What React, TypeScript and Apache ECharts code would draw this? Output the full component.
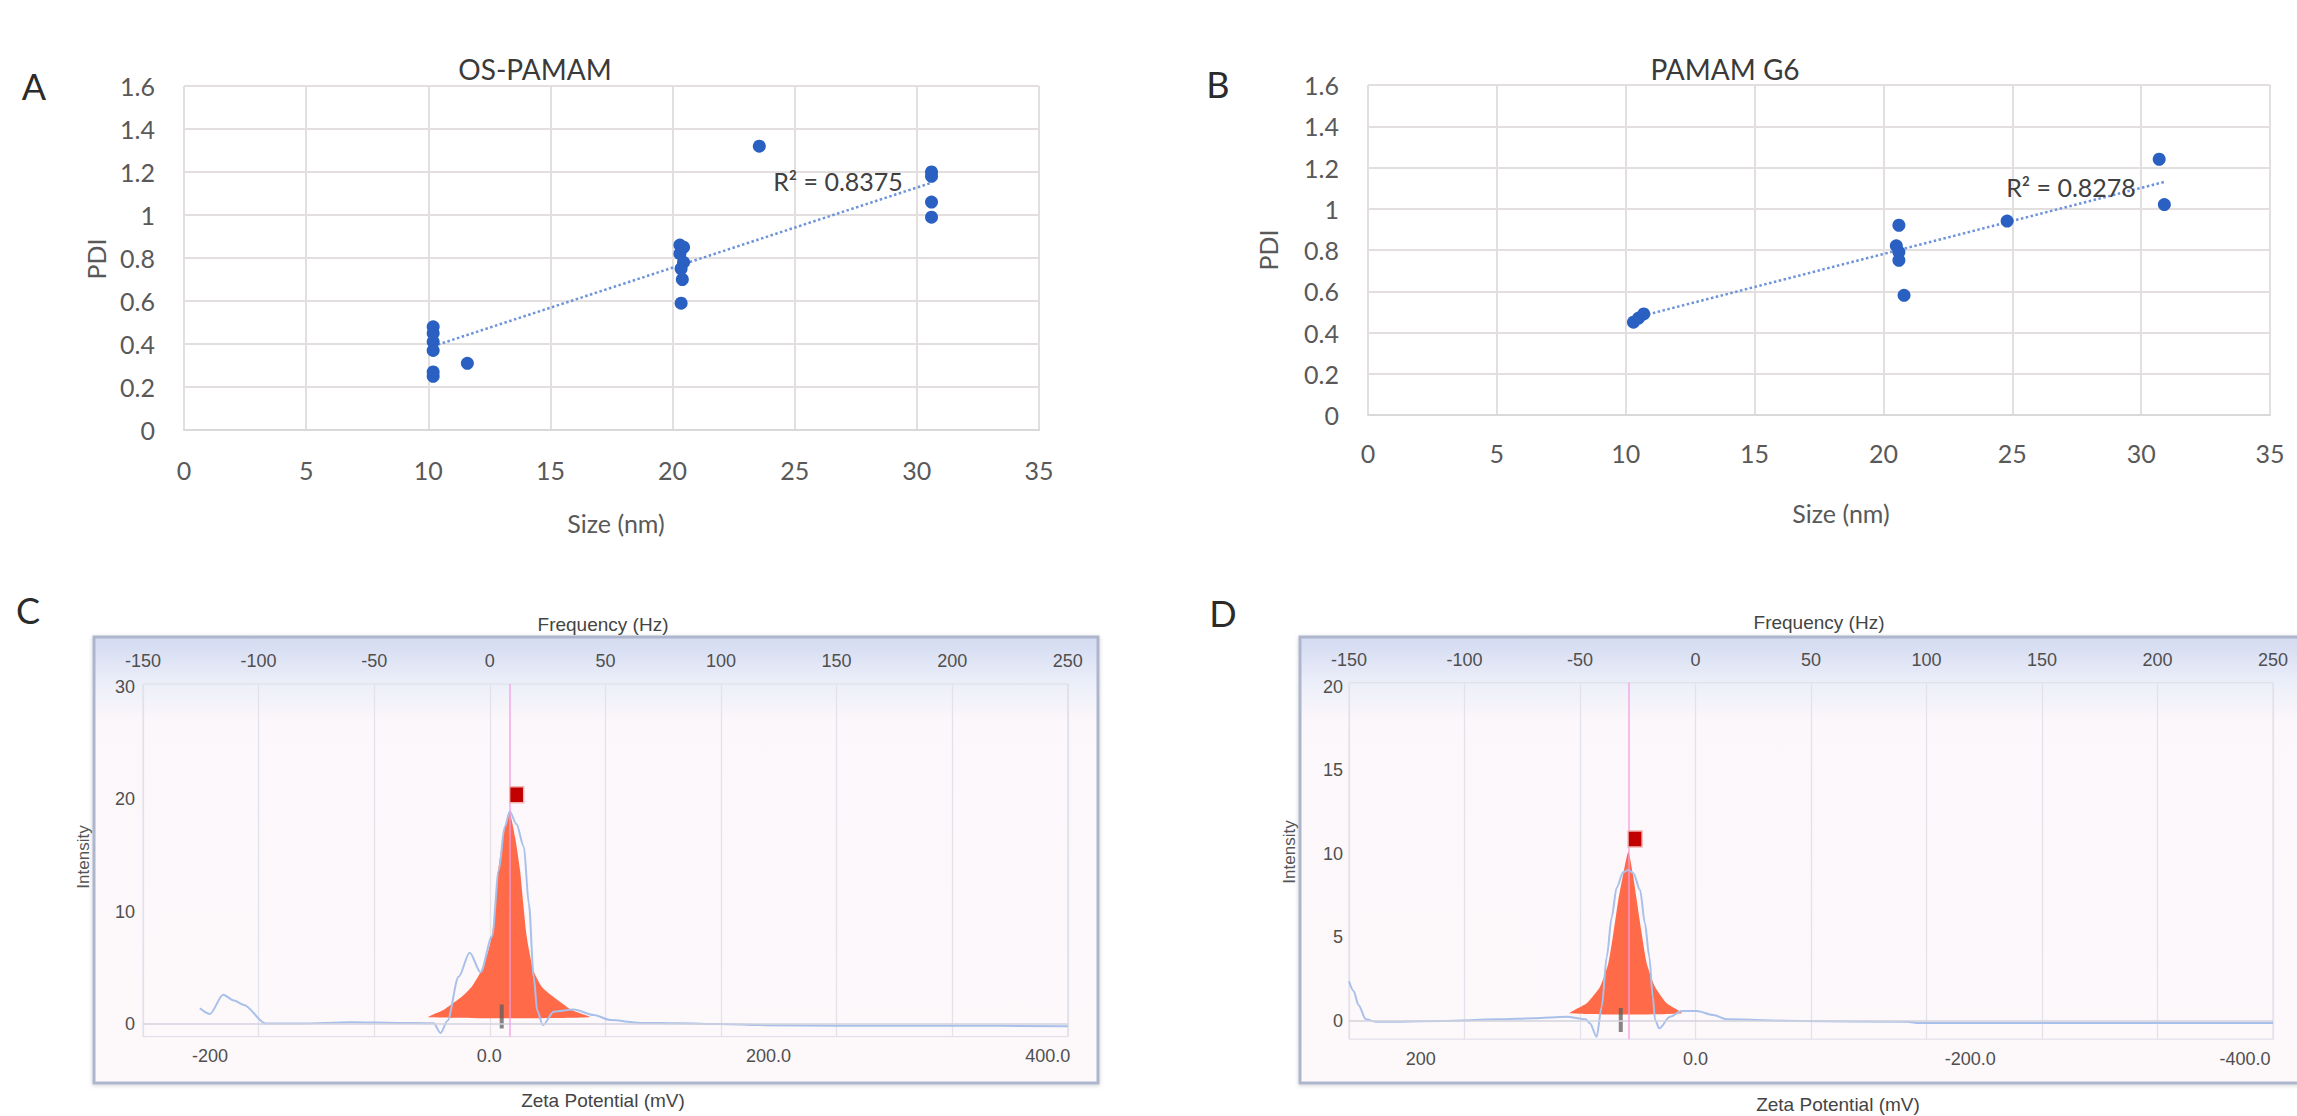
import { useEffect, useRef } from 'react';
import * as echarts from 'echarts';

const W = 2297;
const H = 1116;

const FONT_XL = 'Lato, "Open Sans", sans-serif';
const FONT_ZS = '"Liberation Sans", Arial, sans-serif';

// ---------- A: OS-PAMAM, size vs PDI ----------
const sizeA = [10.2, 10.2, 10.2, 10.2, 10.2, 10.2, 11.6, 20.3, 20.45, 20.3, 20.45, 20.35, 20.4, 20.35, 23.55, 30.6, 30.6, 30.6, 30.6];
const pdiA = [0.48, 0.45, 0.41, 0.37, 0.27, 0.25, 0.31, 0.86, 0.85, 0.82, 0.78, 0.75, 0.7, 0.59, 1.32, 1.2, 1.18, 1.06, 0.99];
const trendA = [[10.2, 0.39], [30.6, 1.15]];
const r2A = 'R\u00b2 = 0.8375';

// ---------- B: PAMAM G6, size vs PDI ----------
const sizeB = [10.3, 10.5, 10.7, 20.6, 20.5, 20.6, 20.6, 20.8, 24.8, 30.7, 30.9];
const pdiB = [0.45, 0.47, 0.49, 0.92, 0.82, 0.79, 0.75, 0.58, 0.94, 1.24, 1.02];
const trendB = [[10.3, 0.47], [30.9, 1.13]];
const r2B = 'R\u00b2 = 0.8278';

// ---------- C: OS-PAMAM zeta potential ----------
const freqTicks = [-150, -100, -50, 0, 50, 100, 150, 200, 250];
const zetaTicksC = [-200, 0, 200, 400];
const zetaLabelsC = ['-200', '0.0', '200.0', '400.0'];
const intensityTicksC = [0, 10, 20, 30];
// phase spectrum, [frequency (Hz), intensity]
const spectrumC = [
  [-125.4, 1.4], [-121.1, 0.9], [-115.3, 2.6], [-110.7, 2.1], [-106.4, 1.7], [-97, 0.05],
  [-82, 0.05], [-60, 0.15], [-40, 0.1], [-24.3, 0.06], [-21.3, -0.8], [-18.3, 0.3],
  [-13.5, 4.2], [-8.7, 6.35], [-4.0, 4.6], [1.0, 7.8], [3.9, 13.7], [6.4, 17.5], [8.65, 18.9],
  [11.5, 17.8], [14.7, 15.8], [16.9, 10.7], [19.0, 4.2], [20.5, 1.2], [22.9, -0.1],
  [27.7, 1.1], [36.3, 1.3], [45.0, 0.8], [52.2, 0.35], [65, 0.1], [82, 0.06], [100, 0.0],
  [117, -0.1], [150, -0.15], [200, -0.15], [250, -0.2],
];
// zeta distribution, [zeta (mV), intensity]
const peakC = [
  [-43.7, 0.6], [-32.9, 1.25], [-19.8, 2.43], [-12.6, 3.32], [-6.7, 4.51], [-1.9, 6.0],
  [1.7, 7.77], [4.1, 10.14], [6.4, 13.7], [10.0, 16.66], [14.3, 18.9], [18.4, 16.66],
  [22.0, 13.7], [24.3, 10.74], [26.8, 7.77], [31.5, 4.8], [37.5, 3.32], [45.8, 2.43],
  [59.0, 1.25], [72.1, 0.6],
];
const peakMarkC = [19.6, 20.4];
const peakLineC = 14.3;
const tickC = [8.9, 0.67];

// ---------- D: PAMAM G6 zeta potential ----------
const zetaTicksD = [200, 0, -200, -400];
const zetaLabelsD = ['200', '0.0', '-200.0', '-400.0'];
const intensityTicksD = [0, 5, 10, 15, 20];
const spectrumD = [
  [-150, 2.37], [-148, 1.8], [-145.9, 0.96], [-142.7, 0.1], [-138, -0.05], [-110, 0.0],
  [-85, 0.1], [-70, 0.16], [-55.8, 0.25], [-47.5, 0.1], [-45.7, -0.14], [-42.8, -0.94],
  [-40.6, 0.86], [-38.4, 3.85], [-36.3, 6.2], [-34.1, 8.0], [-31.3, 8.9], [-29.1, 9.04],
  [-26.9, 8.85], [-24.0, 7.84], [-21.9, 5.85], [-20.0, 3.85], [-18.5, 1.46], [-17.5, 0.06],
  [-15.7, -0.44], [-11, 0.26], [-6, 0.6], [0.5, 0.6], [7.7, 0.36], [13.5, 0.1], [45, 0.0],
  [91.6, -0.05], [97, -0.12], [250, -0.12],
];
const peakD = [
  [91.3, 0.46], [79.2, 1.06], [69.5, 2.05], [63.5, 3.45], [59.8, 5.25], [56.2, 7.25],
  [52.5, 8.84], [48.9, 10.14], [45.7, 8.84], [42.8, 7.25], [39.2, 5.25], [35.5, 3.45],
  [29.5, 2.05], [21.0, 1.06], [10.0, 0.46],
];
const peakMarkD = [44.0, 10.9];
const peakLineD = 48.9;
const tickD = [54.4, 0.06];

// ---------- styling helpers ----------
const xlGrid = { color: '#e4dfdf', width: 2 };
const xlLabel = { color: '#595959', fontSize: 25, fontFamily: FONT_XL };
const zsLabel = { color: '#4f4f4f', fontSize: 18, fontFamily: FONT_ZS };

function text(t: string, x: number, y: number, size: number, family: string, color: string, rotation = 0) {
  return {
    type: 'text',
    x,
    y,
    rotation,
    z: 50,
    silent: true,
    style: {
      text: t,
      fill: color,
      fontSize: size,
      fontFamily: family,
      align: 'center',
      verticalAlign: 'middle',
      textAlign: 'center',
      textVerticalAlign: 'middle',
    },
  };
}

function frame(x: number, y: number, w: number, h: number) {
  return {
    type: 'rect',
    z: -10,
    silent: true,
    shape: { x, y, width: w, height: h },
    style: {
      fill: {
        type: 'linear', x: 0, y: 0, x2: 0, y2: 1,
        colorStops: [
          { offset: 0, color: '#d3daf1' },
          { offset: 0.105, color: '#eceff9' },
          { offset: 0.19, color: '#fcf7fa' },
          { offset: 1, color: '#fdf8fa' },
        ],
      },
      stroke: '#aeb6ce',
      lineWidth: 3,
      shadowBlur: 4,
      shadowColor: 'rgba(0,0,0,0.18)',
      shadowOffsetY: 1,
    },
  };
}

function peakPolygon(points: number[][], color: string) {
  return (params: any, api: any) => {
    if (params.dataIndex !== 0) return null;
    const pts = points.map((p) => api.coord(p));
    return {
      type: 'polygon',
      shape: { points: pts, smooth: 0.2 },
      style: { fill: color },
    };
  };
}

function scatterXL(xs: number[], ys: number[], xi: number, yi: number) {
  return {
    type: 'scatter',
    xAxisIndex: xi,
    yAxisIndex: yi,
    data: xs.map((x, i) => [x, ys[i]]),
    symbolSize: 13,
    itemStyle: { color: '#2a60c2', opacity: 1 },
    z: 4,
  };
}

function trendXL(data: number[][], xi: number, yi: number) {
  return {
    type: 'line',
    xAxisIndex: xi,
    yAxisIndex: yi,
    data,
    symbol: 'none',
    lineStyle: { type: 'dotted', width: 2.5, color: '#6d93da' },
    z: 3,
  };
}

function zetaSeries(
  hzAxis: number, mvAxis: number, yAxis: number,
  spectrum: number[][], peak: number[][], mark: number[], lineAt: number, tick: number[],
) {
  return [
    {
      type: 'custom',
      xAxisIndex: mvAxis,
      yAxisIndex: yAxis,
      data: [peak[0]],
      renderItem: peakPolygon(peak, '#ff6a48'),
      silent: true,
      z: 2,
    },
    {
      type: 'line',
      xAxisIndex: hzAxis,
      yAxisIndex: yAxis,
      data: spectrum,
      symbol: 'none',
      smooth: 0.3,
      smoothMonotone: 'x',
      silent: true,
      lineStyle: { color: '#a8c0ea', width: 2 },
      z: 3,
      markLine: {
        silent: true,
        symbol: 'none',
        label: { show: false },
        lineStyle: { color: '#d2d3dc', width: 1.5, type: 'solid' },
        data: [{ yAxis: 0 }],
      },
    },
    {
      type: 'scatter',
      xAxisIndex: mvAxis,
      yAxisIndex: yAxis,
      data: [tick],
      symbol: 'rect',
      symbolSize: [4, 24],
      itemStyle: { color: '#5e5e5e', opacity: 0.75 },
      silent: true,
      z: 4,
    },
    {
      type: 'scatter',
      xAxisIndex: mvAxis,
      yAxisIndex: yAxis,
      data: [mark],
      symbol: 'rect',
      symbolSize: [14, 16],
      itemStyle: { color: '#c20000', borderColor: '#f0b4b4', borderWidth: 1.5, opacity: 1 },
      silent: true,
      z: 6,
      markLine: {
        silent: true,
        symbol: 'none',
        label: { show: false },
        lineStyle: { color: '#f29ce2', width: 1.5, type: 'solid', opacity: 0.85 },
        data: [{ xAxis: lineAt }],
      },
    },
  ];
}

function buildOption() {
  const grids = [
    { left: 184, top: 86, width: 855, height: 344 },
    { left: 1368, top: 85, width: 902, height: 330 },
    { left: 143, top: 684, width: 924.8, height: 352.7, show: true, borderColor: '#dcdce6', borderWidth: 1, backgroundColor: 'transparent' },
    { left: 1349, top: 682.8, width: 924, height: 356.4, show: true, borderColor: '#dcdce6', borderWidth: 1, backgroundColor: 'transparent' },
  ];

  const xlX = (gridIndex: number, margin: number) => ({
    gridIndex,
    type: 'value',
    min: 0,
    max: 35,
    interval: 5,
    axisLine: { show: true, lineStyle: { color: '#d9d9d9', width: 2 } },
    axisTick: { show: false },
    splitLine: { show: true, lineStyle: xlGrid },
    axisLabel: { ...xlLabel, margin },
  });
  const xlY = (gridIndex: number) => ({
    gridIndex,
    type: 'value',
    min: 0,
    max: 1.6,
    interval: 0.2,
    axisLine: { show: false },
    axisTick: { show: false },
    splitLine: { show: true, lineStyle: xlGrid },
    axisLabel: { ...xlLabel, margin: 29 },
  });
  const hzAxis = (gridIndex: number) => ({
    gridIndex,
    type: 'value',
    position: 'top',
    min: freqTicks[0],
    max: freqTicks[freqTicks.length - 1],
    interval: 50,
    axisLine: { show: false },
    axisTick: { show: false },
    splitLine: { show: true, lineStyle: { color: '#e2e2ea', width: 1.2 } },
    axisLabel: { ...zsLabel, margin: 14 },
  });
  const mvAxis = (gridIndex: number, min: number, max: number, inverse: boolean, ticks: number[], labels: string[]) => ({
    gridIndex,
    type: 'value',
    position: 'bottom',
    min,
    max,
    inverse,
    axisLine: { show: false },
    axisTick: { show: false },
    splitLine: { show: false },
    axisLabel: {
      ...zsLabel,
      margin: 10.5,
      customValues: ticks,
      formatter: (v: number) => {
        const i = ticks.indexOf(v);
        return i >= 0 ? labels[i] : '';
      },
    },
  });
  const intAxis = (gridIndex: number, min: number, max: number, ticks: number[], margin: number) => ({
    gridIndex,
    type: 'value',
    min,
    max,
    axisLine: { show: false },
    axisTick: { show: false },
    splitLine: { show: false },
    axisLabel: { ...zsLabel, margin, customValues: ticks },
  });

  return {
    animation: false,
    backgroundColor: '#ffffff',
    grid: grids,
    xAxis: [
      xlX(0, 27),
      xlX(1, 25),
      hzAxis(2),
      mvAxis(2, -248, 414.3, false, zetaTicksC, zetaLabelsC),
      hzAxis(3),
      mvAxis(3, -420.3, 252.2, true, zetaTicksD, zetaLabelsD),
    ],
    yAxis: [
      xlY(0),
      xlY(1),
      intAxis(2, -1.13, 30.25, intensityTicksC, 8),
      intAxis(3, -1.09, 20.25, intensityTicksD, 6),
    ],
    series: [
      trendXL(trendA, 0, 0),
      scatterXL(sizeA, pdiA, 0, 0),
      trendXL(trendB, 1, 1),
      scatterXL(sizeB, pdiB, 1, 1),
      ...zetaSeries(2, 3, 2, spectrumC, peakC, peakMarkC, peakLineC, tickC),
      ...zetaSeries(4, 5, 3, spectrumD, peakD, peakMarkD, peakLineD, tickD),
    ],
    graphic: {
      elements: [
        frame(94, 637, 1004, 446),
        frame(1300, 637, 1010, 446),
        // panel letters
        text('A', 34, 86, 36, FONT_XL, '#2b2b2b'),
        text('B', 1218, 84, 36, FONT_XL, '#2b2b2b'),
        text('C', 28, 610, 36, FONT_XL, '#2b2b2b'),
        text('D', 1223, 613, 36, FONT_XL, '#2b2b2b'),
        // scatter panels
        text('OS-PAMAM', 535, 69, 28, FONT_XL, '#3a3a3a'),
        text('PAMAM G6', 1725, 69, 28, FONT_XL, '#3a3a3a'),
        text(r2A, 838, 181, 25, FONT_XL, '#404040'),
        text(r2B, 2071, 187, 25, FONT_XL, '#404040'),
        text('Size (nm)', 616, 523, 25, FONT_XL, '#595959'),
        text('Size (nm)', 1841, 513, 25, FONT_XL, '#595959'),
        text('PDI', 96, 259, 25, FONT_XL, '#595959', Math.PI / 2),
        text('PDI', 1268, 250, 25, FONT_XL, '#595959', Math.PI / 2),
        // zeta panels
        text('Frequency (Hz)', 603, 624, 19, FONT_ZS, '#444444'),
        text('Frequency (Hz)', 1819, 622, 19, FONT_ZS, '#444444'),
        text('Zeta Potential (mV)', 603, 1100, 19, FONT_ZS, '#444444'),
        text('Zeta Potential (mV)', 1838, 1104, 19, FONT_ZS, '#444444'),
        text('Intensity', 83, 857, 17, FONT_ZS, '#555555', Math.PI / 2),
        text('Intensity', 1289, 852, 17, FONT_ZS, '#555555', Math.PI / 2),
      ],
    },
  };
}

export default function App() {
  const ref = useRef<HTMLDivElement>(null);

  useEffect(() => {
    if (!ref.current) return;
    const chart = echarts.init(ref.current, undefined, { renderer: 'svg', width: W, height: H });
    chart.setOption(buildOption() as any);
    return () => {
      chart.dispose();
    };
  }, []);

  return (
    <div
      ref={ref}
      style={{ position: 'fixed', left: 0, top: 0, width: W, height: H, background: '#ffffff' }}
    />
  );
}
